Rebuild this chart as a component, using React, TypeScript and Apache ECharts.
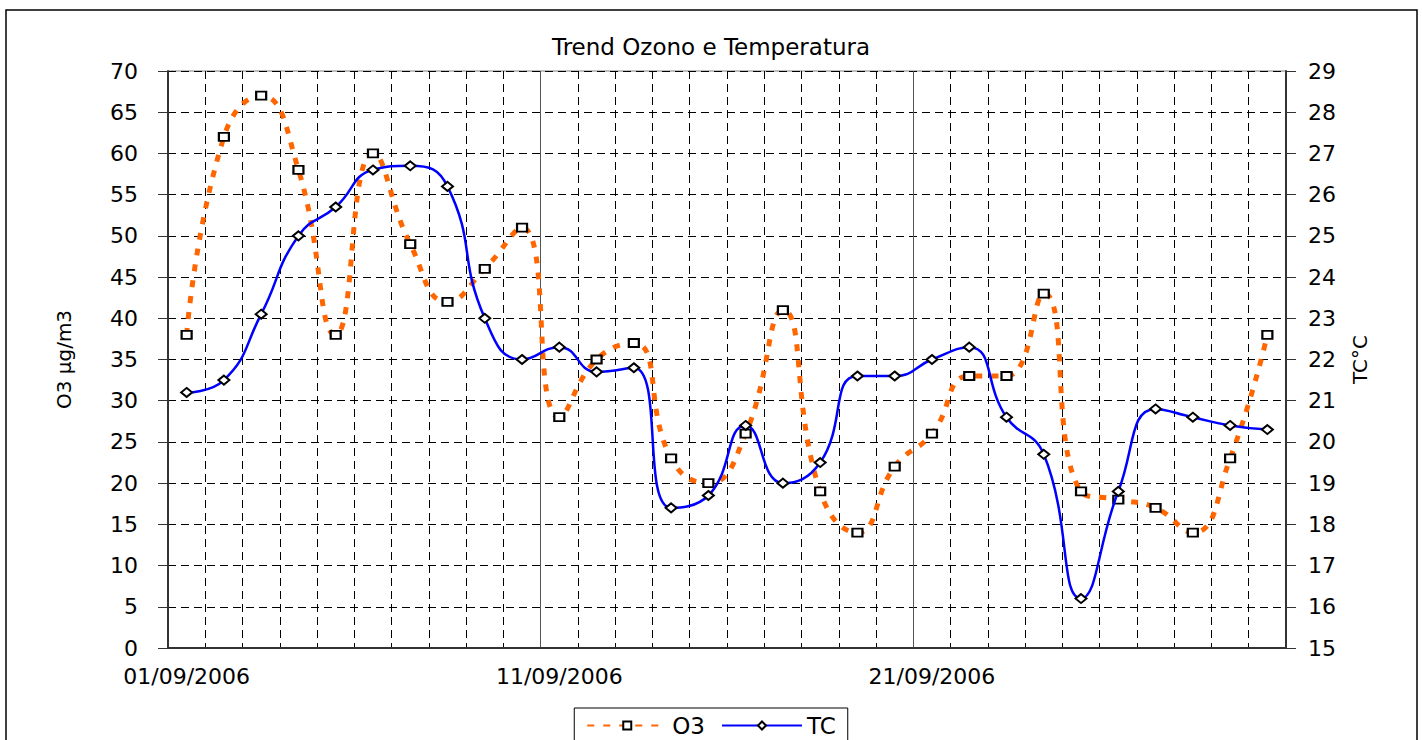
import React, { useEffect, useRef } from "react";
import * as echarts from "echarts";

const dates = [
  "01/09/2006", "02/09/2006", "03/09/2006", "04/09/2006", "05/09/2006", "06/09/2006",
  "07/09/2006", "08/09/2006", "09/09/2006", "10/09/2006", "11/09/2006", "12/09/2006",
  "13/09/2006", "14/09/2006", "15/09/2006", "16/09/2006", "17/09/2006", "18/09/2006",
  "19/09/2006", "20/09/2006", "21/09/2006", "22/09/2006", "23/09/2006", "24/09/2006",
  "25/09/2006", "26/09/2006", "27/09/2006", "28/09/2006", "29/09/2006", "30/09/2006",
];

const o3 = [
  38, 62, 67, 58, 38, 60, 49, 42, 46, 51,
  28, 35, 37, 23, 20, 26, 41, 19, 14, 22,
  26, 33, 33, 43, 19, 18, 17, 14, 23, 38,
];

const tc = [
  21.2, 21.5, 23.1, 25.0, 25.7, 26.6, 26.7, 26.2, 23.0, 22.0,
  22.3, 21.7, 21.8, 18.4, 18.7, 20.4, 19.0, 19.5, 21.6, 21.6,
  22.0, 22.3, 20.6, 19.7, 16.2, 18.8, 20.8, 20.6, 20.4, 20.3,
];

const FONT = "DejaVu Sans";

export default function App() {
  const ref = useRef<HTMLDivElement>(null);

  useEffect(() => {
    if (!ref.current) return;
    const chart = echarts.init(ref.current, null, { renderer: "svg" });
    const dash = { type: [8, 5] as number[], color: "#000", width: 1 };
    chart.setOption({
      animation: false,
      backgroundColor: "#fff",
      textStyle: { fontFamily: FONT, color: "#000" },
      title: {
        text: "Trend Ozono e Temperatura",
        left: "center",
        top: 30,
        textStyle: { fontFamily: FONT, fontSize: 23, fontWeight: "normal", color: "#000" },
      },
      graphic: [
        {
          type: "rect",
          shape: { x: 6, y: 10, width: 1411, height: 780 },
          style: { fill: "none", stroke: "#000", lineWidth: 1.5 },
          silent: true,
        },
      ],
      grid: {
        left: 168,
        right: 136,
        top: 71,
        bottom: 92,
        show: true,
        borderColor: "#808080",
        borderWidth: 1,
      },
      legend: {
        top: 708,
        left: "center",
        itemWidth: 80,
        itemHeight: 10,
        itemGap: 16,
        padding: [6, 12, 12, 12],
        borderColor: "#000",
        borderWidth: 1,
        textStyle: { fontFamily: FONT, fontSize: 23, color: "#000" },
        data: ["O3", "TC"],
      },
      xAxis: [
        {
          type: "category",
          data: dates,
          boundaryGap: true,
          axisLine: { lineStyle: { color: "#333", width: 2 } },
          axisTick: { show: false },
          axisLabel: { interval: 9, fontSize: 22, color: "#000", margin: 17, fontFamily: FONT },
          splitLine: { show: true, interval: 0, lineStyle: dash },
        },
        {
          type: "category",
          data: dates,
          position: "bottom",
          boundaryGap: true,
          axisLine: { show: false },
          axisTick: { show: false },
          axisLabel: { show: false },
          splitLine: { show: true, interval: 9, lineStyle: { color: "#555", width: 1 } },
        },
      ],
      yAxis: [
        {
          type: "value",
          min: 0,
          max: 70,
          interval: 5,
          name: "O3 µg/m3",
          nameLocation: "middle",
          nameRotate: 90,
          nameGap: 94,
          nameTextStyle: { fontSize: 20, color: "#000", fontFamily: FONT },
          axisLine: { show: true, lineStyle: { color: "#333", width: 2 } },
          axisTick: { show: true, length: 10, lineStyle: { color: "#333" } },
          axisLabel: { fontSize: 22, color: "#000", margin: 30, fontFamily: FONT },
          splitLine: { show: true, lineStyle: dash },
        },
        {
          type: "value",
          min: 15,
          max: 29,
          interval: 1,
          position: "right",
          name: "TC°C",
          nameLocation: "middle",
          nameRotate: 90,
          nameGap: 64,
          nameTextStyle: { fontSize: 20, color: "#000", fontFamily: FONT },
          axisLine: { show: true, lineStyle: { color: "#333", width: 2 } },
          axisTick: { show: true, length: 10, lineStyle: { color: "#333" } },
          axisLabel: { fontSize: 22, color: "#000", margin: 22, fontFamily: FONT },
          splitLine: { show: false },
        },
      ],
      series: [
        {
          name: "O3",
          type: "line",
          xAxisIndex: 0,
          yAxisIndex: 0,
          data: o3,
          smooth: 0.5,
          symbol: "rect",
          symbolSize: [10, 8],
          itemStyle: { color: "#fff", borderColor: "#000", borderWidth: 2 },
          lineStyle: { color: "#FF6600", width: 5, type: [7, 9] },
          emphasis: { disabled: true },
          z: 3,
        },
        {
          name: "TC",
          type: "line",
          xAxisIndex: 0,
          yAxisIndex: 1,
          data: tc,
          smooth: 0.5,
          symbol: "diamond",
          symbolSize: [11, 9],
          itemStyle: { color: "#fff", borderColor: "#000", borderWidth: 2 },
          lineStyle: { color: "#0000FF", width: 2.5 },
          emphasis: { disabled: true },
          z: 4,
        },
      ],
    });
    return () => chart.dispose();
  }, []);

  return (
    <div
      ref={ref}
      style={{ position: "absolute", left: 0, top: 0, width: 1422, height: 740 }}
    />
  );
}
